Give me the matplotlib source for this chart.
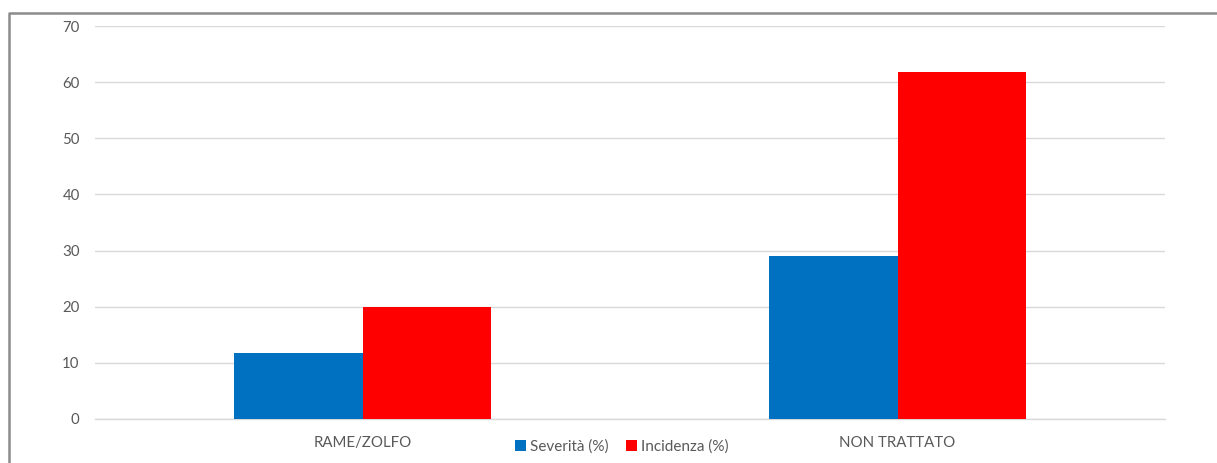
import matplotlib.pyplot as plt
from matplotlib.lines import Line2D
import numpy as np

categories = ["RAME/ZOLFO", "NON TRATTATO"]
severita = [11.7, 29.1]
incidenza = [20.0, 61.8]
series_labels = ["Severità (%)", "Incidenza (%)"]
yticks = [0, 10, 20, 30, 40, 50, 60, 70]

BLUE = "#0070c0"
RED = "#ff0000"
GRID = "#d9d9d9"
TEXT = "#595959"

plt.rcParams["font.family"] = ["Lato", "DejaVu Sans"]

W, H = 1217, 463
fig = plt.figure(figsize=(W / 100, H / 100), dpi=100)
ax = fig.add_axes([95 / W, 1 - 419 / H, (1165 - 95) / W, (419 - 26) / H])

x = np.arange(len(categories))
bw = 0.24
ax.bar(x - bw / 2, severita, bw, color=BLUE, label=series_labels[0], zorder=3)
ax.bar(x + bw / 2, incidenza, bw, color=RED, label=series_labels[1], zorder=3)

ax.set_xlim(-0.5, len(categories) - 0.5)
ax.set_ylim(0, 70)
ax.set_yticks(yticks)
ax.set_xticks(x)
ax.set_xticklabels(categories, fontsize=10.8, color=TEXT)
ax.tick_params(axis="y", length=0, labelsize=10.8, labelcolor=TEXT, pad=11)
ax.tick_params(axis="x", length=0, pad=12)
ax.yaxis.grid(True, color=GRID, linewidth=1, zorder=0)
for side in ["top", "right", "left"]:
    ax.spines[side].set_visible(False)
ax.spines["bottom"].set_color(GRID)
ax.spines["bottom"].set_linewidth(1)

ax.legend(loc="center", bbox_to_anchor=(622 / W, 1 - 447 / H),
          bbox_transform=fig.transFigure, ncol=2, frameon=False,
          fontsize=11, labelcolor=TEXT, handlelength=0.7, handleheight=0.7,
          handletextpad=0.3, columnspacing=1.1)

# outer frame (top and left edges only)
fig.add_artist(Line2D([9 / W, 9 / W, 1], [0, 1 - 13 / H, 1 - 13 / H],
                      transform=fig.transFigure, color="#8c8c8c", linewidth=1.8))

fig.savefig("out.png", dpi=100)
